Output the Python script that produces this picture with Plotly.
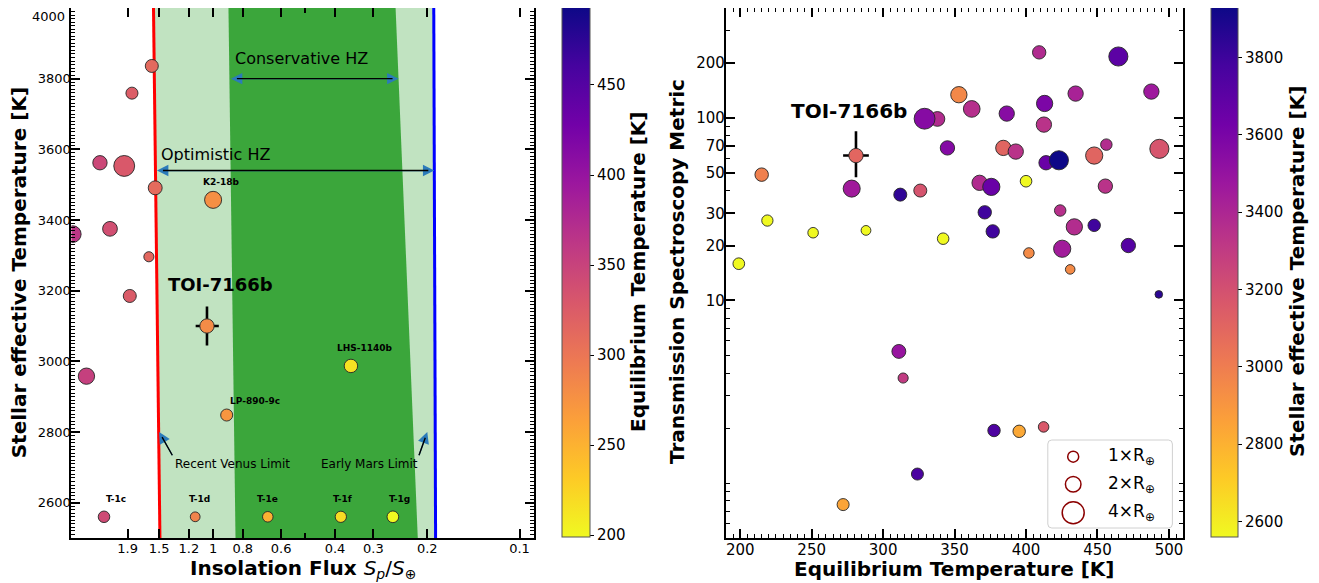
import numpy as np
import plotly.graph_objects as go

W, H = 1319, 583          # size of the reference picture
OFF = 8                   # page body margin of the browser
WF, HF = W - OFF, H - OFF  # figure size so that the page fits the window
FONT = "DejaVu Sans"

# ---------------- Habitable-zone boundaries (insolation flux at Teff = 2500 K and 4000 K) -------------
hz_teff = [2500, 4000]
hz_recent_venus = [1.491, 1.565]
hz_runaway = [0.845, 0.891]
hz_max_greenhouse = [0.2148, 0.2538]
hz_early_mars = [0.1879, 0.1905]

# ---------------- Left panel: planets in insolation / stellar Teff space ----------------
left_names = ["", "", "", "", "", "K2-18b", "", "", "", "", "", "LHS-1140b", "LP-890-9c",
              "T-1c", "T-1d", "T-1e", "T-1f", "T-1g"]
left_flux = [1.585, 1.84, 2.34, 1.95, 1.545, 1.00, 2.17, 2.87, 1.62, 1.87, 2.59, 0.355, 0.903,
             2.27, 1.144, 0.663, 0.383, 0.259]
left_teff = [3836, 3759, 3562, 3553, 3491, 3457, 3375, 3360, 3296, 3185, 2958, 2987, 2848,
             2560, 2560, 2560, 2560, 2560]
left_teq = [312, 324, 345, 329, 311, 278, 338, 362, 314, 326, 353, 215, 272,
            342, 288, 251, 219, 199]
left_radius = [1.4, 1.2, 1.7, 3.6, 1.6, 2.4, 1.8, 2.3, 0.85, 1.4, 2.2, 1.5, 1.2,
               1.10, 0.79, 0.92, 1.05, 1.13]

# ---------------- Right panel: TSM vs equilibrium temperature ----------------
right_teq = [199, 215, 219, 251, 288, 278, 312, 326, 329, 338, 345, 342, 353, 362, 367.5,
             375.7, 371.1, 376.7, 386.5, 384.1, 392.8, 400, 402, 409.2, 413, 412.5, 414, 423,
             423.9, 425.3, 430.9, 433.8, 434.7, 447.7, 447.7, 455.5, 456.2, 464.6, 471.6,
             487.7, 493.3, 492.9, 311, 314, 377.6, 395.2, 412.3, 324, 272]
right_tsm = [15.9, 48.9, 27.4, 23.5, 24.2, 41.0, 38.0, 40.0, 99.0, 98.7, 68.5, 21.8, 134, 112,
             44.1, 41.9, 30.4, 23.9, 105.6, 68.5, 65.4, 45.0, 18.2, 228.6, 120, 91.9, 56.8,
             58.6, 31.1, 19.2, 14.8, 25.3, 135.9, 25.8, 62.2, 42.3, 71.4, 217, 20.0, 139.4,
             67.7, 10.8, 5.26, 3.76, 1.94, 1.92, 2.03, 1.12, 0.762]
right_teff = [2560, 2987, 2560, 2560, 2560, 3457, 3836, 3185, 3553, 3375, 3562, 2560, 2958,
              3360, 3380, 3656, 3793, 3793, 3550, 3108, 3340, 2560, 2945, 3380, 3590, 3340,
              3656, 3930, 3355, 3450, 2945, 3370, 3420, 3793, 3108, 3340, 3370, 3700, 3725,
              3465, 3180, 3850, 3491, 3296, 3750, 2834, 3163, 3759, 2848]
right_radius = [1.13, 1.5, 1.05, 0.92, 0.79, 2.4, 1.4, 1.4, 3.6, 1.8, 1.7, 1.10, 2.2, 2.3,
                1.94, 2.45, 1.48, 1.48, 1.94, 1.94, 1.94, 1.12, 0.92, 1.48, 2.19, 1.94, 1.7,
                3.02, 1.09, 2.45, 0.76, 2.19, 1.94, 1.28, 2.45, 1.7, 1.09, 3.02, 1.7, 1.94,
                3.02, 0.48, 1.6, 0.85, 1.28, 1.28, 0.92, 1.2, 1.2]

# ---------------- TOI-7166b ----------------
toi_flux, toi_flux_err_plus, toi_flux_err_minus = 1.047, 0.093, 0.089
toi_teff, toi_teff_err = 3100, 55
toi_teq, toi_teq_err = 281, 9
toi_tsm, toi_tsm_err_plus, toi_tsm_err_minus = 62.2, 22.3, 14.9
toi_radius = 1.7

# tick labels
left_x_ticks = [1.9, 1.5, 1.2, 1, 0.8, 0.6, 0.4, 0.3, 0.2, 0.1]
left_x_minor = [0.5]
left_y_ticks = [2600, 2800, 3000, 3200, 3400, 3600, 3800, 4000]
right_x_ticks = [200, 250, 300, 350, 400, 450, 500]
right_y_ticks = [10, 20, 30, 50, 70, 100, 200]
right_y_minor = [0.6, 0.7, 0.8, 0.9, 1, 2, 3, 4, 5, 6, 7, 8, 9, 40, 60, 80, 90, 300, 400]
cb_teq_ticks = [200, 250, 300, 350, 400, 450]
cb_teff_ticks = [2600, 2800, 3000, 3200, 3400, 3600, 3800]
legend_radii = [1, 2, 4]

# ---------------- styling helpers ----------------
SIZE_K = 11.0
LIGHT_GREEN = "#c1e3c1"
DARK_GREEN = "#3ba63b"
HEAD_BLUE = "#2b7bba"


def size_of(r):
    return SIZE_K * np.sqrt(np.asarray(r, dtype=float))


def px_x(p):
    return (p - OFF) / WF


def px_y(p):
    return 1 - (p - OFF) / HF


teq_all = list(left_teq) + list(right_teq) + [toi_teq]
teq_min, teq_max = min(teq_all), max(teq_all)
teff_all = list(right_teff) + [toi_teff]
teff_min, teff_max = min(teff_all), max(teff_all)


def interp_log(teff, bound):
    return float(10 ** np.interp(teff, hz_teff, np.log10(bound)))


fig = go.Figure()

# ---------------- Left panel ----------------
fig.add_trace(go.Scatter(
    x=hz_recent_venus + hz_early_mars[::-1], y=hz_teff + hz_teff[::-1],
    fill="toself", fillcolor=LIGHT_GREEN, mode="lines", line=dict(width=0),
    hoverinfo="skip", showlegend=False, xaxis="x", yaxis="y"))
fig.add_trace(go.Scatter(
    x=hz_runaway + hz_max_greenhouse[::-1], y=hz_teff + hz_teff[::-1],
    fill="toself", fillcolor=DARK_GREEN, mode="lines", line=dict(width=0),
    hoverinfo="skip", showlegend=False, xaxis="x", yaxis="y"))
fig.add_trace(go.Scatter(x=hz_recent_venus, y=hz_teff, mode="lines",
                         line=dict(color="#ff0000", width=3), showlegend=False,
                         xaxis="x", yaxis="y"))
fig.add_trace(go.Scatter(x=hz_early_mars, y=hz_teff, mode="lines",
                         line=dict(color="#0000ff", width=3), showlegend=False,
                         xaxis="x", yaxis="y"))

marker_line = dict(color="#262626", width=0.9)


def colorbar(x_px, ticks, thickness):
    return dict(x=px_x(x_px), xanchor="left", xpad=0, ypad=0, thickness=thickness,
                thicknessmode="pixels", len=530 / HF, lenmode="fraction",
                y=px_y(272), yanchor="middle", outlinewidth=1, outlinecolor="#555555",
                ticks="outside", ticklen=4, tickwidth=1, tickcolor="black", tickvals=ticks,
                tickfont=dict(family=FONT, size=15, color="black"))


fig.add_trace(go.Scatter(
    x=left_flux, y=left_teff, mode="markers", showlegend=False, xaxis="x", yaxis="y",
    marker=dict(size=size_of(left_radius), color=left_teq, colorscale="Plasma",
                reversescale=True, cmin=teq_min, cmax=teq_max, line=marker_line, opacity=1,
                colorbar=colorbar(562, cb_teq_ticks, 28))))

# error bars first so that the marker covers their centre
fig.add_trace(go.Scatter(
    x=[toi_flux], y=[toi_teff], mode="markers", showlegend=False, xaxis="x", yaxis="y",
    error_x=dict(type="data", array=[toi_flux_err_plus], arrayminus=[toi_flux_err_minus],
                 color="black", thickness=2.6, width=0),
    error_y=dict(type="data", array=[toi_teff_err], color="black", thickness=2.6, width=0),
    marker=dict(size=2, opacity=0)))
fig.add_trace(go.Scatter(
    x=[toi_flux], y=[toi_teff], mode="markers", showlegend=False, xaxis="x", yaxis="y",
    marker=dict(size=size_of([toi_radius]), color=[toi_teq], colorscale="Plasma",
                reversescale=True, cmin=teq_min, cmax=teq_max, line=marker_line,
                opacity=1, showscale=False)))

# ---------------- Right panel ----------------
order = np.argsort(right_teff, kind="stable")
fig.add_trace(go.Scatter(
    x=np.asarray(right_teq)[order], y=np.asarray(right_tsm)[order], mode="markers",
    showlegend=False, xaxis="x2", yaxis="y2",
    marker=dict(size=size_of(np.asarray(right_radius)[order]),
                color=np.asarray(right_teff)[order], colorscale="Plasma", reversescale=True,
                cmin=teff_min, cmax=teff_max, line=marker_line, opacity=1,
                colorbar=colorbar(1211, cb_teff_ticks, 27))))

fig.add_trace(go.Scatter(
    x=[toi_teq], y=[toi_tsm], mode="markers", showlegend=False, xaxis="x2", yaxis="y2",
    error_x=dict(type="data", array=[toi_teq_err], color="black", thickness=2.6, width=0),
    error_y=dict(type="data", array=[toi_tsm_err_plus], arrayminus=[toi_tsm_err_minus],
                 color="black", thickness=2.6, width=0),
    marker=dict(size=2, opacity=0)))
fig.add_trace(go.Scatter(
    x=[toi_teq], y=[toi_tsm], mode="markers", showlegend=False, xaxis="x2", yaxis="y2",
    marker=dict(size=size_of([toi_radius]), color=[toi_teff], colorscale="Plasma",
                reversescale=True, cmin=teff_min, cmax=teff_max, line=marker_line,
                opacity=1, showscale=False)))


# ---------------- Axes ----------------
def axis_common(fs, standoff):
    return dict(showline=True, linewidth=2, linecolor="black", mirror="ticks",
                ticks="inside", ticklen=9, tickwidth=2, tickcolor="black", showgrid=False,
                zeroline=False, ticklabelstandoff=standoff,
                tickfont=dict(family=FONT, size=fs, color="black"))


# the topmost label (4000) sits at the very top edge of the page; it is written
# just inside the visible area below
left_y_text = [str(v) if v != max(left_y_ticks) else "" for v in left_y_ticks]

DOM_Y = [px_y(538), px_y(8)]
fig.update_layout(
    xaxis=dict(**axis_common(13, -3), type="log", domain=[px_x(71.4), px_x(534)],
               anchor="y", range=[np.log10(2.9), np.log10(0.0897)], tickvals=left_x_ticks,
               ticktext=[str(v) for v in left_x_ticks],
               minor=dict(ticks="inside", ticklen=5, tickwidth=1.5, tickcolor="black",
                          tickvals=left_x_minor, showgrid=False)),
    yaxis=dict(**axis_common(13, -4), domain=DOM_Y, anchor="x", range=[2500, 4000],
               tickvals=left_y_ticks, ticktext=left_y_text,
               minor=dict(ticks="inside", ticklen=4, tickwidth=1, tickcolor="black",
                          dtick=10, tick0=2500, showgrid=False)),
    xaxis2=dict(**axis_common(15, -3), domain=[px_x(725.8), px_x(1182.8)], anchor="y2",
                range=[189.9, 509.7], tickvals=right_x_ticks,
                minor=dict(ticks="inside", ticklen=4, tickwidth=1, tickcolor="black",
                           dtick=5, tick0=0, showgrid=False)),
    yaxis2=dict(**axis_common(15, -4), type="log", domain=DOM_Y, anchor="x2",
                range=[np.log10(0.5), np.log10(400)], tickvals=right_y_ticks,
                ticktext=[str(v) for v in right_y_ticks],
                minor=dict(ticks="inside", ticklen=4, tickwidth=1, tickcolor="black",
                           tickvals=right_y_minor, showgrid=False)),
)

annotations = []
shapes = []


def text_ann(text, x, y, xref="paper", yref="paper", size=14, xanchor="center",
             yanchor="middle", angle=0, **kw):
    d = dict(text=text, x=x, y=y, xref=xref, yref=yref, showarrow=False,
             font=dict(family=FONT, size=size, color="black"), xanchor=xanchor,
             yanchor=yanchor, textangle=angle, borderpad=0)
    d.update(kw)
    annotations.append(d)


def arrow(tip, tail, double=False):
    # tip/tail in (flux, teff) of the left panel
    common = dict(x=np.log10(tip[0]), y=tip[1], ax=np.log10(tail[0]), ay=tail[1],
                  xref="x", yref="y", axref="x", ayref="y", text="", showarrow=True)
    annotations.append(dict(**common, arrowhead=2, startarrowhead=2,
                            arrowside="end+start" if double else "end",
                            arrowcolor=HEAD_BLUE, arrowwidth=1.2, arrowsize=1.9,
                            startarrowsize=1.9))
    annotations.append(dict(**common, arrowhead=0, arrowside="none", arrowcolor="black",
                            arrowwidth=1.4, standoff=6,
                            startstandoff=6 if double else 0))


# top tick label of the left y axis
text_ann(str(max(left_y_ticks)), px_x(66), 1.0, size=13, xanchor="right", yanchor="top")

# HZ arrows and labels
cons_teff, opt_teff = 3800, 3540
arrow((interp_log(cons_teff, hz_max_greenhouse), cons_teff),
      (interp_log(cons_teff, hz_runaway), cons_teff), double=True)
arrow((interp_log(opt_teff, hz_early_mars), opt_teff),
      (interp_log(opt_teff, hz_recent_venus), opt_teff), double=True)
arrow((1.5, 2800), (1.35, 2730))
arrow((0.2, 2800), (0.2137, 2730))
text_ann("Conservative HZ", np.log10(0.856), 3856, "x", "y", size=16, xanchor="left")
text_ann("Optimistic HZ", np.log10(1.491), 3584, "x", "y", size=16, xanchor="left")
text_ann("Recent Venus Limit", np.log10(1.344), 2710, "x", "y", size=12, xanchor="left")
text_ann("Early Mars Limit", np.log10(0.447), 2710, "x", "y", size=12, xanchor="left")

# planet labels (pixel offsets from the marker)
label_offsets = {"K2-18b": (7.7, 18.3), "LHS-1140b": (14.4, 18.3), "LP-890-9c": (28, 14.3),
                 "T-1c": (12.2, 17.7), "T-1d": (4.1, 17.7), "T-1e": (-0.6, 17.7),
                 "T-1f": (2.1, 17.7), "T-1g": (6.2, 17.7)}
for name, fx, tf in zip(left_names, left_flux, left_teff):
    if name:
        dx, dy = label_offsets[name]
        text_ann(f"<b>{name}</b>", np.log10(fx), tf, "x", "y", size=9, xshift=dx, yshift=dy)

text_ann("<b>TOI-7166b</b>", np.log10(toi_flux), toi_teff, "x", "y", size=18,
         xshift=14, yshift=41.7)
text_ann("<b>TOI-7166b</b>", toi_teq, np.log10(toi_tsm), "x2", "y2", size=20,
         xshift=-7.2, yshift=45)

# axis titles
text_ann("<b>Stellar effective Temperature [K]</b>", px_x(18.8), px_y(272.5), size=20,
         angle=-90)
text_ann("<b>Insolation Flux </b><i>S<sub>p</sub></i>/<i>S</i><sub>⊕</sub>",
         px_x(302.7), px_y(569), size=20)
text_ann("<b>Equilibrium Temperature [K]</b>", px_x(954.3), px_y(569), size=20)
text_ann("<b>Transmission Spectroscopy Metric</b>", px_x(677), px_y(272), size=20, angle=-90)
text_ann("<b>Equilibrium Temperature [K]</b>", px_x(638), px_y(272), size=20, angle=-90)
text_ann("<b>Stellar effective Temperature [K]</b>", px_x(1297), px_y(272), size=20,
         angle=-90)

# size legend (right panel)
bx0, bx1, by0, by1 = px_x(1047.8), px_x(1172.4), px_y(528), px_y(440)
rx, ry = 4 / WF, 4 / HF
path = (f"M{bx0 + rx},{by0} L{bx1 - rx},{by0} Q{bx1},{by0} {bx1},{by0 + ry} "
        f"L{bx1},{by1 - ry} Q{bx1},{by1} {bx1 - rx},{by1} L{bx0 + rx},{by1} "
        f"Q{bx0},{by1} {bx0},{by1 - ry} L{bx0},{by0 + ry} Q{bx0},{by0} {bx0 + rx},{by0} Z")
shapes.append(dict(type="path", path=path, xref="paper", yref="paper",
                   line=dict(color="#d0d0d0", width=1), fillcolor="rgba(255,255,255,0.85)"))
row_y = [456.7, 484.3, 512.7]
for r, ry_px in zip(legend_radii, row_y):
    rad = float(size_of(r)) / 2
    shapes.append(dict(type="circle", xref="paper", yref="paper", xsizemode="pixel",
                       ysizemode="pixel", xanchor=px_x(1073.2), yanchor=px_y(ry_px),
                       x0=-rad, x1=rad, y0=-rad, y1=rad,
                       line=dict(color="#8b0000", width=1.5), fillcolor="rgba(0,0,0,0)"))
    text_ann(f"{r}×R<sub>⊕</sub>", px_x(1107), px_y(ry_px), size=17, xanchor="left")

fig.update_layout(
    width=WF, height=HF, margin=dict(l=0, r=0, t=0, b=0, autoexpand=False),
    plot_bgcolor="white", paper_bgcolor="white", showlegend=False,
    font=dict(family=FONT, color="black"), annotations=annotations, shapes=shapes)

fig.write_html("out.html")
